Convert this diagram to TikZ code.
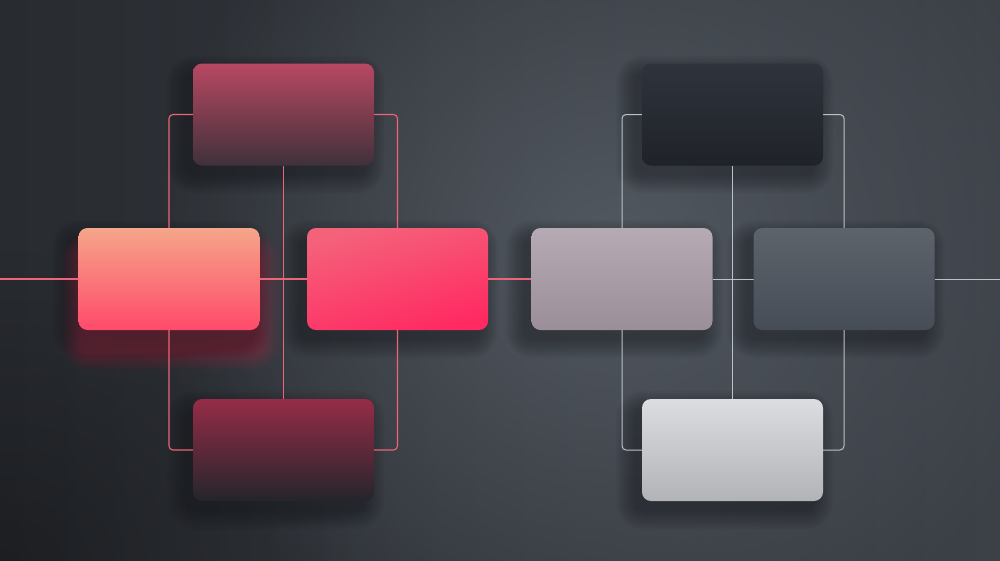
\documentclass[tikz,border=0pt]{standalone}
\usetikzlibrary{fadings,calc}
\definecolor{bgdark}{HTML}{282B30}
\definecolor{bgmid}{HTML}{3C4148}
\definecolor{bglight}{HTML}{535961}
\definecolor{linered}{HTML}{EE6478}
\definecolor{linegrey}{HTML}{BCC1C8}
\definecolor{glowred}{HTML}{E8204C}
\definecolor{shadowcol}{HTML}{0E1014}
\definecolor{ltTop}{HTML}{B84862}
\definecolor{ltBot}{HTML}{40313A}
\definecolor{lmTop}{HTML}{F5A68A}
\definecolor{lmBot}{HTML}{FF4A6A}
\definecolor{rmA}{HTML}{F4627A}
\definecolor{rmB}{HTML}{FF2A62}
\definecolor{lbTop}{HTML}{962C47}
\definecolor{lbBot}{HTML}{24252B}
\definecolor{RtTop}{HTML}{2F333B}
\definecolor{RtBot}{HTML}{1F2229}
\definecolor{RlTop}{HTML}{B6ABB4}
\definecolor{RlBot}{HTML}{9A8E99}
\definecolor{RrTop}{HTML}{5D636B}
\definecolor{RrBot}{HTML}{474D56}
\definecolor{RbTop}{HTML}{DCDDE0}
\definecolor{RbBot}{HTML}{B2B3B7}
\tikzfading[name=radfade, inner color=transparent!0, outer color=transparent!100]
\pgfdeclarelayer{bg}
\pgfdeclarelayer{lines}
\pgfdeclarelayer{shade}
\pgfsetlayers{bg,shade,lines,main}
\newcommand\softshadow[5][0.045]{%
  \foreach \e in {0,2,...,18}{%
    \fill[#5, opacity=#1, rounded corners={9pt+\e pt}]
      ([xshift={#3pt-\e pt}, yshift={#4pt+\e pt}]#2.north west) rectangle
      ([xshift={#3pt+\e pt}, yshift={#4pt-\e pt}]#2.south east);
  }}
\begin{document}
\begin{tikzpicture}[x=1pt,y=-1pt,
  box/.style={rectangle, rounded corners=9pt, minimum width=181pt,
    minimum height=102pt, inner sep=0pt, outer sep=0pt},
  redline/.style={draw=linered, line width=1.1pt},
  greyline/.style={draw=linegrey, line width=1pt},
]
\useasboundingbox (0,0) rectangle (1000,560);
\begin{pgfonlayer}{bg}
  \shade[left color=bgdark, right color=bgmid] (0,0) rectangle (1000,560);
  \fill[bglight, path fading=radfade] (150,-200) rectangle (1080,700);
  \fill[black, opacity=0.3, path fading=radfade] (-350,250) rectangle (350,900);
\end{pgfonlayer}

% left group
\node[box, top color=ltTop, bottom color=ltBot] (lt) at (283.5,114.5) {};
\node[box, top color=lmTop, bottom color=lmBot] (lm) at (169,279) {};
\node[box, top color=rmA, bottom color=rmB, shading angle=15] (rm) at (397.5,279) {};
\node[box, top color=lbTop, bottom color=lbBot] (lb) at (283.5,450) {};
% right group
\node[box, top color=RtTop, bottom color=RtBot] (Rt) at (732.5,114.5) {};
\node[box, top color=RlTop, bottom color=RlBot] (Rl) at (622,279) {};
\node[box, top color=RrTop, bottom color=RrBot] (Rr) at (844,279) {};
\node[box, top color=RbTop, bottom color=RbBot] (Rb) at (732.5,450) {};

\coordinate (leftend) at (0,279);
\coordinate (rightend) at (1000,279);

\begin{pgfonlayer}{shade}
  \foreach \n in {lt,lm,rm,lb,Rt,Rl,Rr,Rb}{\softshadow{\n}{-8}{-10}{shadowcol}}
  \softshadow[0.03]{lm}{2}{-22}{glowred}
\end{pgfonlayer}

\begin{pgfonlayer}{lines}
  % left group
  \draw[redline, rounded corners=4pt] (lm.center |- lt.center) rectangle (rm.center |- lb.center);
  \draw[redline] (lt.south) -- (lb.north);
  \draw[redline] (leftend) -- (lm.west);
  \draw[redline] (lm.east) -- (rm.west);
  \draw[redline] (rm.east) -- (Rl.west);
  % right group
  \draw[greyline, rounded corners=4pt] (Rl.center |- Rt.center) rectangle (Rr.center |- Rb.center);
  \draw[greyline] (Rt.south) -- (Rb.north);
  \draw[greyline] (Rl.east) -- (Rr.west);
  \draw[greyline] (Rr.east) -- (rightend);
\end{pgfonlayer}
\end{tikzpicture}
\end{document}
